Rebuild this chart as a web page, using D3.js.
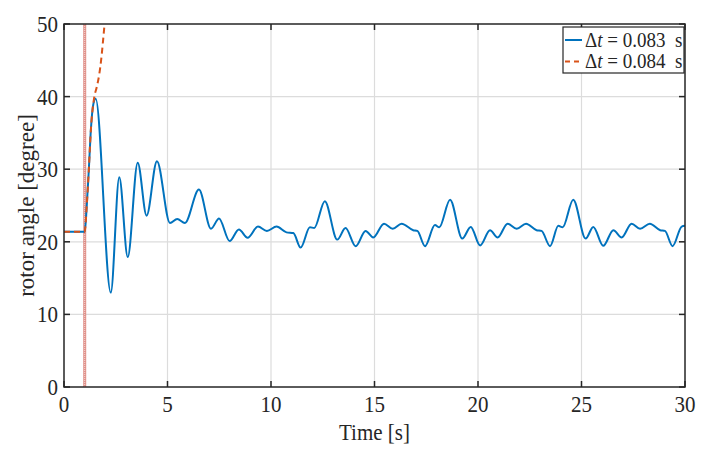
<!DOCTYPE html>
<html><head><meta charset="utf-8">
<script src="https://cdn.jsdelivr.net/npm/d3@7/dist/d3.min.js"></script>
<style>body{margin:0;background:#fff}svg text{font-family:"Liberation Serif","Times New Roman",serif;fill:#262626}</style>
</head><body><svg id="c" width="711" height="457"></svg>
<script>
const xTicks = [0,5,10,15,20,25,30];
const yTicks = [0,10,20,30,40,50];
const seriesNames = ["0.083", "0.084"];
const faultTime = 1.0;
const timeBlue = [0,1.0,1.1,1.2,1.3,1.42,1.53,2.26,2.67,3.08,3.56,3.99,4.49,5.12,5.47,5.84,6.52,7.1,7.49,8.0,8.45,8.87,9.37,9.8,10.27,10.75,11.08,11.43,11.88,12.09,12.6,13.2,13.6,14.09,14.57,14.94,15.46,15.88,16.31,16.87,17.07,17.44,17.92,18.13,18.65,19.24,19.65,20.1,20.58,20.95,21.43,21.87,22.32,22.83,23.07,23.48,23.88,24.09,24.6,25.2,25.57,26.05,26.54,26.94,27.42,27.83,28.3,28.8,29.03,29.4,29.84,30];
const angleBlue = [21.4,21.4,25,30,35.5,39.0,39.7,13.0,28.9,17.9,30.9,23.6,31.1,22.6,23.15,22.6,27.2,21.8,23.2,20.1,21.7,20.55,22.1,21.5,22.1,21.3,21.2,19.2,22.0,21.9,25.6,20.3,21.9,19.4,21.5,20.6,22.5,21.8,22.5,21.6,21.5,19.4,22.3,22.0,25.8,20.45,22.05,19.5,21.6,20.6,22.5,21.8,22.5,21.6,21.5,19.4,22.2,22.0,25.8,20.45,22.05,19.45,21.6,20.6,22.5,21.8,22.5,21.6,21.5,19.4,22.1,22.2];
const timeRed = [0,1.0,1.1,1.2,1.3,1.46,1.58,1.7,1.8,1.88,1.96];
const angleRed = [21.4,21.4,25,30,35.5,39.9,41.3,43,45.2,47.5,50];

const svg = d3.select("#c");
const L=64,R=685,T=24,B=387;
const x = d3.scaleLinear().domain([0,30]).range([L,R]);
const y = d3.scaleLinear().domain([0,50]).range([B,T]);
const axisColor="#262626";
const SY = 1.12; // vertical stretch of the reference's text

// grid
const g = svg.append("g");
g.selectAll(".gx").data(xTicks.slice(1,-1)).join("line")
 .attr("x1",d=>x(d)).attr("x2",d=>x(d)).attr("y1",T).attr("y2",B)
 .attr("stroke","#dcdcdc").attr("stroke-width",1.2);
g.selectAll(".gy").data(yTicks.slice(1,-1)).join("line")
 .attr("y1",d=>y(d)).attr("y2",d=>y(d)).attr("x1",L).attr("x2",R)
 .attr("stroke","#dcdcdc").attr("stroke-width",1.2);

// clip
svg.append("clipPath").attr("id","clip").append("rect").attr("x",L).attr("y",T).attr("width",R-L).attr("height",B-T);
const plot = svg.append("g").attr("clip-path","url(#clip)");

// fault vertical line
plot.append("line").attr("x1",x(faultTime)).attr("x2",x(faultTime)).attr("y1",T).attr("y2",B)
 .attr("stroke","#d9786f").attr("stroke-width",3).attr("opacity",0.8);
plot.append("line").attr("x1",x(faultTime)).attr("x2",x(faultTime)).attr("y1",T).attr("y2",B)
 .attr("stroke","#f6d6d2").attr("stroke-width",1).attr("stroke-dasharray","1,1");

const line = d3.line().x(d=>x(d[0])).y(d=>y(d[1])).curve(d3.curveMonotoneX);
const blue = timeBlue.map((t,i)=>[t,angleBlue[i]]);
const red = timeRed.map((t,i)=>[t,angleRed[i]]);
plot.append("path").attr("d",line(blue)).attr("fill","none").attr("stroke","#0072BD").attr("stroke-width",2);
plot.append("path").attr("d",line(red)).attr("fill","none").attr("stroke","#D95319").attr("stroke-width",2).attr("stroke-dasharray","6,4");

function stxt(parent, px, py, size, anchor, s){
  return parent.append("text").attr("transform",`translate(${px},${py}) scale(1,${SY})`)
    .attr("text-anchor",anchor).attr("font-size",size).text(s);
}

// axes box with inward ticks
const ax = svg.append("g");
ax.append("rect").attr("x",L).attr("y",T).attr("width",R-L).attr("height",B-T).attr("fill","none").attr("stroke",axisColor).attr("stroke-width",1.5);
const tl=6;
xTicks.forEach(d=>{
  ax.append("line").attr("x1",x(d)).attr("x2",x(d)).attr("y1",B).attr("y2",B-tl).attr("stroke",axisColor).attr("stroke-width",1.5);
  ax.append("line").attr("x1",x(d)).attr("x2",x(d)).attr("y1",T).attr("y2",T+tl).attr("stroke",axisColor).attr("stroke-width",1.5);
  stxt(ax, x(d), B+25, 21, "middle", d);
});
yTicks.forEach(d=>{
  ax.append("line").attr("y1",y(d)).attr("y2",y(d)).attr("x1",L).attr("x2",L+tl).attr("stroke",axisColor).attr("stroke-width",1.5);
  ax.append("line").attr("y1",y(d)).attr("y2",y(d)).attr("x1",R).attr("x2",R-tl).attr("stroke",axisColor).attr("stroke-width",1.5);
  stxt(ax, L-6, y(d)+8, 21, "end", d);
});
stxt(svg, (L+R)/2, 440, 21, "middle", "Time [s]");
svg.append("text").attr("transform",`translate(33.5,${(T+B)/2}) rotate(-90)`).attr("text-anchor","middle").attr("font-size",23).text("rotor angle [degree]");

// legend
const lg = svg.append("g");
lg.append("rect").attr("x",563).attr("y",27).attr("width",121).attr("height",46).attr("fill","#fff").attr("stroke",axisColor).attr("stroke-width",1.2);
const colors=["#0072BD","#D95319"], dashes=[null,"5,4"];
seriesNames.forEach((n,i)=>{
  const yy = 40 + i*21.5;
  lg.append("line").attr("x1",565).attr("x2",582).attr("y1",yy).attr("y2",yy).attr("stroke",colors[i]).attr("stroke-width",2).attr("stroke-dasharray",dashes[i]);
  const t = lg.append("text").attr("transform",`translate(585,${yy+6.5}) scale(1,${SY})`).attr("font-size",19);
  t.append("tspan").text("Δ");
  t.append("tspan").attr("font-style","italic").text("t");
  t.append("tspan").text(" = " + n + "\u00a0\u00a0s");
});
</script></body></html>
